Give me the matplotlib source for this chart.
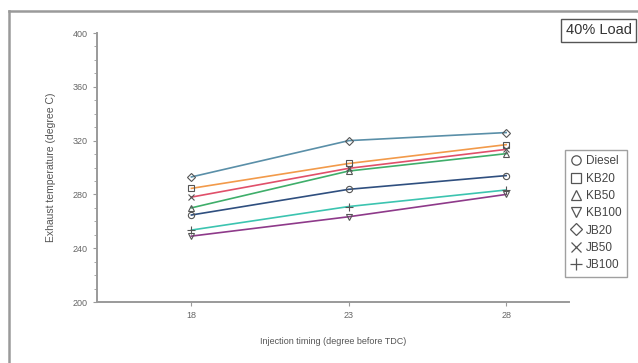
"""Exhaust temperature vs injection timing at 40% load."""

import matplotlib

matplotlib.use("Agg")
matplotlib.rcParams["font.family"] = ["Liberation Sans", "DejaVu Sans"]
import matplotlib.pyplot as plt  # noqa: E402
from matplotlib.lines import Line2D  # noqa: E402
from matplotlib.ticker import MultipleLocator  # noqa: E402

timing = [18, 23, 28]
fuels = ["Diesel", "KB20", "KB50", "KB100", "JB20", "JB50", "JB100"]
diesel = [264.7, 283.8, 294.0]
kb20 = [284.5, 303.0, 317.0]
kb50 = [270.0, 297.4, 310.3]
kb100 = [249.0, 263.4, 280.0]
jb20 = [293.0, 320.0, 326.0]
jb50 = [278.0, 299.4, 313.5]
jb100 = [253.5, 271.0, 283.3]

series = [diesel, kb20, kb50, kb100, jb20, jb50, jb100]
markers = ["o", "s", "^", "v", "D", "x", "+"]
sizes = [4.5, 5, 5, 5, 4, 5, 6]
colors = ["#2f4f7f", "#f29a4a", "#3fae6a", "#8e3a8a", "#5a8fa8", "#e0506a", "#3cc4b0"]
EDGE = "#555555"
GREY = "#9a9a9a"

fig = plt.figure(figsize=(6.38, 3.63), dpi=100)
ax = fig.add_axes([0.152, 0.168, 0.740, 0.741])

for vals, mk, ms, col in zip(series, markers, sizes, colors):
    ax.plot(timing, vals, color=col, linewidth=1.2, zorder=2)
    ax.plot(timing, vals, linestyle="none", marker=mk, markersize=ms,
            markerfacecolor="none", markeredgecolor=EDGE, markeredgewidth=0.8, zorder=3)

ax.set_xlim(15, 30)
ax.set_ylim(200, 400)
ax.set_xticks(timing)
ax.yaxis.set_major_locator(MultipleLocator(40))
ax.yaxis.set_minor_locator(MultipleLocator(10))
ax.tick_params(axis="both", which="major", labelsize=6.5, colors=GREY, length=3,
               labelcolor="#666666")
ax.tick_params(axis="y", which="minor", length=2, colors=GREY)
ax.spines[["top", "right"]].set_visible(False)
for side in ("left", "bottom"):
    ax.spines[side].set_color(GREY)
    ax.spines[side].set_linewidth(1.4)

ax.set_xlabel("Injection timing (degree before TDC)", fontsize=6.5, color="#555555",
              labelpad=12)
ax.set_ylabel("Exhaust temperature (degree C)", fontsize=7.5, color="#555555",
              labelpad=12)

handles = [
    Line2D([], [], linestyle="none", marker=mk, markersize=ms * 1.5,
           markerfacecolor="none", markeredgecolor=EDGE, markeredgewidth=0.9,
           label=name)
    for name, mk, ms in zip(fuels, markers, sizes)
]
leg = fig.legend(handles=handles, loc="upper left", bbox_to_anchor=(0.876, 0.603),
                 fontsize=8.5, frameon=True, fancybox=False, handlelength=1.0,
                 handletextpad=0.35, borderpad=0.45, labelspacing=0.45)
leg.get_frame().set_edgecolor("#888888")
leg.get_frame().set_linewidth(1.0)
for t in leg.get_texts():
    t.set_color("#444444")

fig.text(0.990, 0.917, "40% Load", ha="right", va="center", fontsize=10.5,
         color="#333333",
         bbox={"boxstyle": "square,pad=0.3", "facecolor": "white",
               "edgecolor": "#555555", "linewidth": 1.0})

# outer panel border (left and top edges)
fig.add_artist(Line2D([0.014, 0.014], [0.0, 0.97], transform=fig.transFigure,
                      color="#9a9a9a", linewidth=1.8))
fig.add_artist(Line2D([0.014, 1.0], [0.97, 0.97], transform=fig.transFigure,
                      color="#9a9a9a", linewidth=1.8))

fig.savefig("out.png", dpi=100)
